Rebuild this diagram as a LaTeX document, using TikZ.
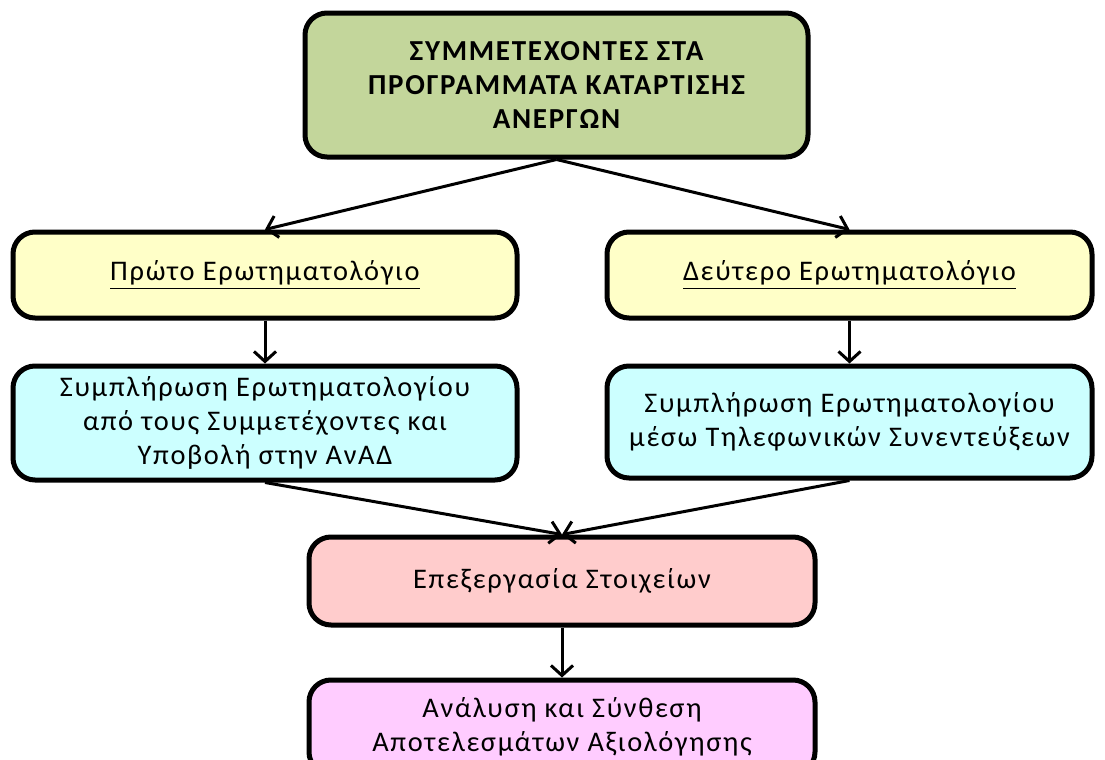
\documentclass[tikz,border=0pt]{standalone}
\usepackage{fontspec}
\setmainfont{Carlito}[LetterSpace=6]
\usepackage{xcolor}
\usetikzlibrary{arrows.meta,positioning}
\definecolor{boxgreen}{HTML}{C3D69B}
\definecolor{boxyellow}{HTML}{FFFFC8}
\definecolor{boxcyan}{HTML}{CCFFFF}
\definecolor{boxpink}{HTML}{FFCCCC}
\definecolor{boxmagenta}{HTML}{FFCCFF}

\begin{document}
\begin{tikzpicture}[x=0.5pt,y=-0.5pt,font=\fontsize{14.2}{17}\selectfont]
        \tikzstyle{box}=[draw=black,line width=2.5pt,rounded corners=11pt,align=center,inner sep=0pt]
        \tikzstyle{arr}=[draw=black,line width=1.5pt,-{Straight Barb[length=5pt,width=11pt]}]
        \useasboundingbox (0,0) rectangle (1105,760);
        \clip (0,0) rectangle (1105,760);
        \node [box,fill=boxgreen,minimum width=251.5pt,minimum height=72pt,font=\fontsize{14.5}{16.8}\selectfont\bfseries] (top) at (556.5,85) {ΣΥΜΜΕΤΕΧΟΝΤΕΣ ΣΤΑ\\ΠΡΟΓΡΑΜΜΑΤΑ ΚΑΤΑΡΤΙΣΗΣ\\ΑΝΕΡΓΩΝ};
        \node [box,fill=boxyellow,minimum width=252pt,minimum height=43pt] (q1) at (265,275) {\underline{Πρώτο Ερωτηματολόγιο}};
        \node [box,fill=boxyellow,minimum width=242.5pt,minimum height=43pt] (q2) at (849.5,275) {\underline{Δεύτερο Ερωτηματολόγιο}};
        \node [box,fill=boxcyan,minimum width=252pt,minimum height=57pt] (fill1) at (265,423) {Συμπλήρωση Ερωτηματολογίου\\από τους Συμμετέχοντες και\\Υποβολή στην ΑνΑΔ};
        \node [box,fill=boxcyan,minimum width=242.5pt,minimum height=56pt] (fill2) at (849.5,422) {Συμπλήρωση Ερωτηματολογίου\\μέσω Τηλεφωνικών Συνεντεύξεων};
        \node [box,fill=boxpink,minimum width=253pt,minimum height=44pt] (proc) at (562,581) {Επεξεργασία Στοιχείων};
        \node [box,fill=boxmagenta,minimum width=253pt,minimum height=47pt] (anal) at (562,727) {Ανάλυση και Σύνθεση\\Αποτελεσμάτων Αξιολόγησης};
        \draw [arr] (top.south) -- (q1.north);
        \draw [arr] (top.south) -- (q2.north);
        \draw [arr] (q1) -- (fill1);
        \draw [arr] (q2) -- (fill2);
        \draw [arr] (fill1.south) -- (proc.north);
        \draw [arr] (fill2.south) -- (proc.north);
        \draw [arr] (proc) -- (anal);
\end{tikzpicture}
\end{document}
